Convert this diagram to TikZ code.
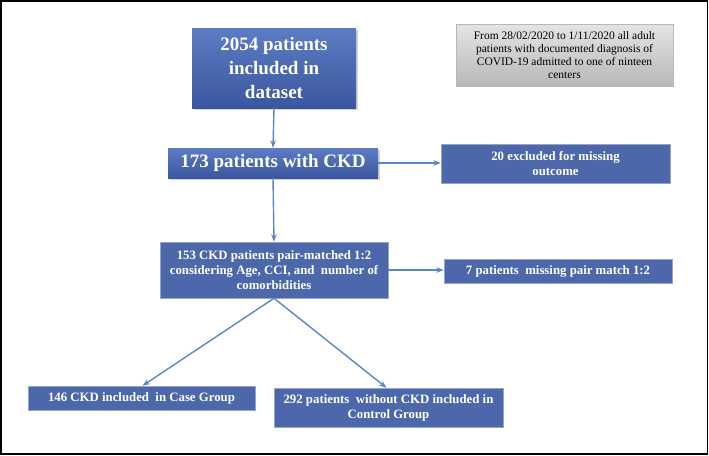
\documentclass[tikz,border=0pt]{standalone}
\usepackage{fontspec}
\setmainfont{Liberation Serif}
\usetikzlibrary{arrows.meta,shadows}
\definecolor{boxblue}{RGB}{76,104,170}
\definecolor{boxtop}{RGB}{92,124,196}
\definecolor{boxbot}{RGB}{58,86,158}
\definecolor{linkblue}{RGB}{91,135,197}
\definecolor{notetop}{RGB}{228,228,228}
\definecolor{notebot}{RGB}{184,184,184}

\begin{document}
\begin{tikzpicture}
    [   x = 1pt, y = -1pt
    ,   > = {Stealth[scale=0.8]}
    ,   flat/.style =
        {   draw = boxblue!60!white
        ,   line width = 0.5pt
        ,   fill = boxblue
        ,   text = white
        ,   font = \bfseries\fontsize{12.8}{15}\selectfont
        ,   align = center
        ,   inner sep = 0mm
        }
    ,   big/.style =
        {   top color = boxtop
        ,   bottom color = boxbot
        ,   draw = none
        ,   text = white
        ,   font = \bfseries\fontsize{19}{24}\selectfont
        ,   align = center
        ,   inner sep = 0mm
        ,   drop shadow = {opacity=0.35, shadow xshift=1.5pt, shadow yshift=-2pt}
        }
    ,   note/.style =
        {   top color = notetop
        ,   bottom color = notebot
        ,   draw = notebot
        ,   line width = 0.4pt
        ,   font = \fontsize{11.5}{13}\selectfont
        ,   align = center
        ,   inner sep = 0mm
        }
    ,   link/.style =
        {   draw = linkblue
        ,   line width = 1.4pt
        }
    ]
    \useasboundingbox (0,0) rectangle (709,455);
    \draw[line width=1.6pt] (0.8,0.8) rectangle (707.5,454);

    \node[big, minimum width=164pt, minimum height=80pt] (D) at (274,68)
        {2054 patients\\ included in\\ dataset};
    \node[big, minimum width=210pt, minimum height=30pt] (C) at (273,163)
        {173 patients with CKD};
    \node[flat, minimum width=229pt, minimum height=39pt] (E1) at (555.5,163.5)
        {20 excluded for missing\\ outcome};
    \node[flat, minimum width=228pt, minimum height=56pt] (M) at (274,270)
        {153 CKD patients pair-matched 1:2\\ considering Age, CCI, and~ number of\\ comorbidities};
    \node[flat, minimum width=228pt, minimum height=24pt] (E2) at (558,271)
        {7 patients~ missing pair match 1:2};
    \node[flat, minimum width=227pt, minimum height=24pt] (G1) at (141.5,398)
        {146 CKD included~ in Case Group};
    \node[flat, minimum width=229pt, minimum height=39pt] (G2) at (388.5,407.5)
        {292 patients~ without CKD included in\\ Control Group};
    \node[note, minimum width=217pt, minimum height=62pt] (N) at (564.5,55)
        {From 28/02/2020 to 1/11/2020 all adult\\ patients with documented diagnosis of\\ COVID-19 admitted to one of ninteen\\ centers};

    \draw[link,->] (D.south) to (C.north);
    \draw[link,->] (C.east) to (E1.west |- C.east);
    \draw[link,->] (C.south) to (M.north);
    \draw[link,->] (M.east) to (E2.west |- M.east);
    \draw[link,->] (M.south) to ([xshift=1pt]G1.north);
    \draw[link,->] (M.south) to ([xshift=-2pt]G2.north);

\end{tikzpicture}
\end{document}
